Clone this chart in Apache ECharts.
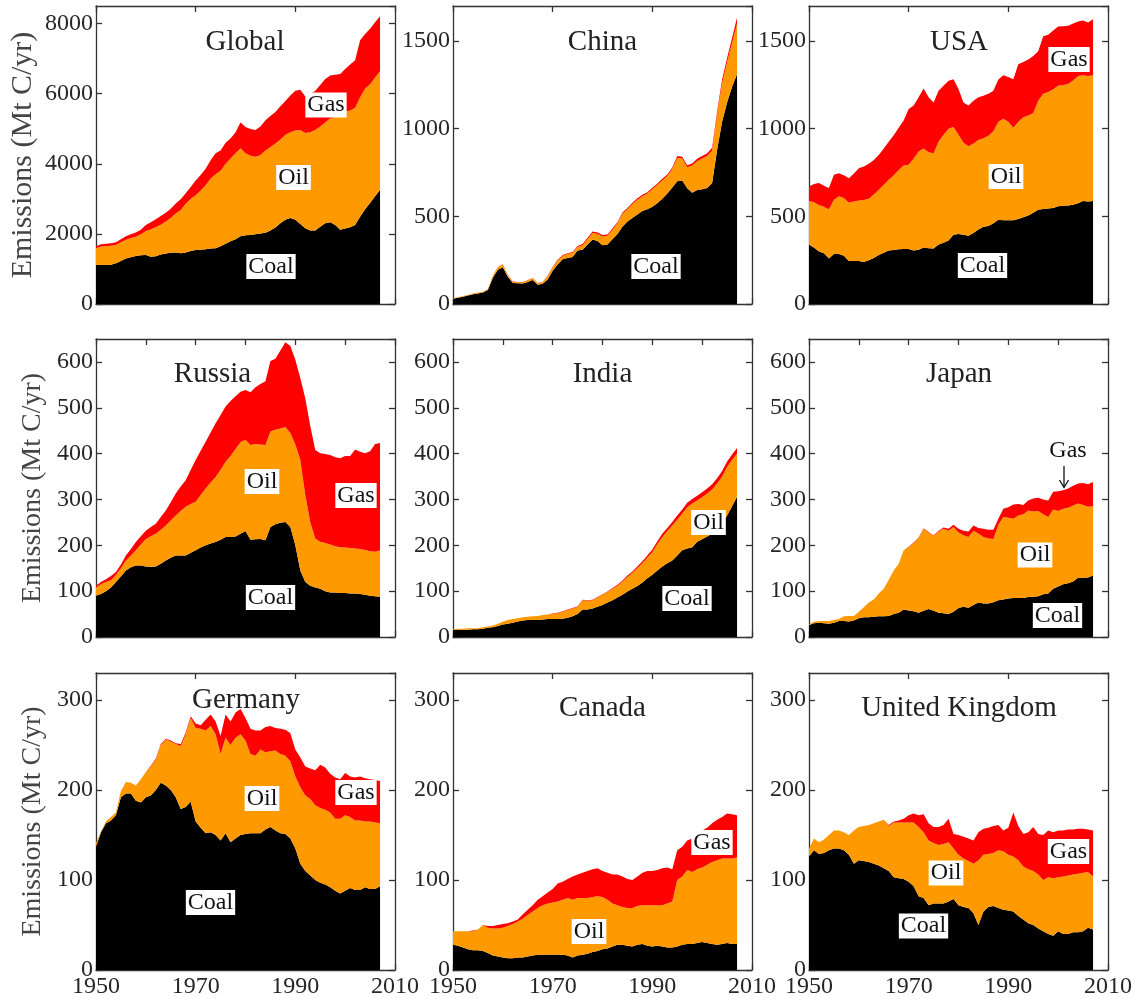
<!DOCTYPE html>
<html>
<head>
<meta charset="utf-8">
<title>Fossil fuel emissions by fuel, 1950-2007</title>
<script src="https://cdn.jsdelivr.net/npm/echarts@6/dist/echarts.min.js"></script>
<style>
  html, body { margin: 0; padding: 0; background: #fff; }
  #chart { width: 1137px; height: 999px; }
</style>
</head>
<body>
<div id="chart"></div>
<script>
// x categories 1950..2010, series run 1950-2007
const years = [];
for (let y = 1950; y <= 2010; y++) years.push(String(y));

// Mt C/yr, one value per year from 1950 to 2007
const globalCoal = [1110,1120,1110,1120,1160,1230,1300,1330,1370,1390,
  1400,1350,1360,1410,1440,1460,1470,1450,1470,1510,
  1540,1550,1560,1580,1590,1650,1720,1790,1850,1930,
  1960,1970,1990,2010,2030,2100,2180,2300,2400,2450,
  2400,2280,2160,2100,2100,2200,2300,2330,2250,2120,
  2150,2190,2250,2490,2700,2880,3070,3250];
const globalOil = [480,520,540,540,520,530,530,550,550,600,
  680,780,830,850,910,990,1110,1230,1390,1490,
  1560,1690,1830,2000,2110,2150,2280,2360,2450,2510,
  2340,2260,2210,2240,2350,2380,2400,2390,2430,2450,
  2550,2680,2720,2800,2860,2860,2880,2970,3080,3280,
  3340,3330,3350,3410,3450,3390,3390,3390];
const globalGas = [60,65,70,75,80,90,100,110,120,130,
  170,200,230,250,250,270,290,310,300,340,
  420,440,470,520,600,580,600,570,600,740,
  750,760,760,810,860,880,900,950,960,1050,
  1130,1150,1040,1090,1120,1190,1240,1220,1210,1160,
  1210,1310,1350,1620,1550,1580,1580,1570];

const chinaCoal = [30,35,42,48,55,60,65,80,150,195,
  210,155,120,118,117,125,137,110,115,140,
  190,225,255,262,268,305,310,340,368,360,
  335,340,370,400,440,470,490,510,530,540,
  555,575,600,630,665,700,705,660,635,650,
  655,662,690,880,1040,1150,1240,1310];
const chinaOil = [4,4,4,4,5,5,5,6,10,15,
  15,10,6,6,7,10,10,8,9,20,
  20,23,20,23,24,20,25,30,37,40,
  50,50,55,60,75,70,80,85,85,90,
  100,105,105,100,105,135,125,120,155,165,
  175,183,185,200,220,230,250,290];
const chinaGas = [0,0,0,0,0,0,0,0,1,1,
  2,2,2,2,2,2,2,2,2,3,
  3,4,4,5,5,6,7,8,8,8,
  8,7,7,7,7,7,8,8,8,8,
  8,8,9,9,9,9,10,11,12,13,
  14,15,17,18,20,24,28,34];

const usaCoal = [338,323,300,290,260,285,285,275,245,245,
  245,240,250,262,280,292,305,308,312,314,
  314,305,310,323,318,316,340,350,362,395,
  400,395,390,405,425,440,445,460,480,478,
  478,478,485,495,505,520,538,542,545,548,
  558,560,562,566,575,587,585,588];
const usaOil = [249,257,265,265,280,310,330,330,333,340,
  345,354,350,363,372,388,404,427,453,476,
  481,525,560,564,547,544,585,615,638,615,
  565,525,510,510,510,505,515,525,560,579,
  562,527,555,571,570,570,622,658,665,677,
  687,690,693,709,725,718,715,717];
const usaGas = [84,104,125,120,122,142,131,130,140,160,
  185,190,200,197,198,207,216,228,240,257,
  318,302,310,343,315,290,291,280,273,272,
  261,230,232,245,244,243,240,231,240,248,
  255,277,327,314,320,325,282,327,326,335,
  338,335,332,325,311,312,306,319];

const russiaCoal = [90,94,100,108,120,132,145,152,156,156,
  154,153,154,160,167,173,178,178,178,184,
  189,195,200,204,207,212,218,218,219,225,
  231,212,213,214,211,240,246,249,251,240,
  200,145,120,112,108,105,100,97,97,96,
  96,95,95,94,92,90,89,88];
const russiaOil = [18,21,20,16,15,18,22,26,33,46,
  60,67,71,74,76,81,87,97,106,106,
  106,115,124,133,142,153,164,177,191,200,
  199,207,208,206,208,208,206,206,207,205,
  220,241,190,138,107,103,105,105,101,100,
  99,99,98,98,98,97,97,101];
const russiaGas = [4,5,6,9,7,8,11,14,18,18,
  18,20,22,28,33,40,48,53,58,74,
  91,96,102,109,117,119,121,120,115,110,
  109,115,124,132,139,154,155,170,185,190,
  185,179,210,210,193,193,194,195,194,194,
  200,201,216,212,211,218,235,234];

const indiaCoal = [15,16,16,16,17,17,18,20,21,24,
  27,29,31,34,36,37,37,37,38,39,
  39,39,40,42,45,50,60,60,62,66,
  70,75,80,86,92,99,105,111,119,128,
  136,145,154,161,167,178,189,193,196,208,
  213,219,225,232,248,265,285,306];
const indiaOil = [2,2,2,3,2,2,3,3,4,5,
  6,8,8,7,7,7,8,9,10,10,
  11,13,15,17,17,16,20,19,18,20,
  22,23,25,26,29,32,35,39,42,45,
  49,58,64,70,76,78,80,90,95,90,
  92,94,97,103,102,106,101,94];
const indiaGas = [0,0,0,0,0,0,0,0,0,0,
  0,0,0,0,0,0,0,0,0,0,
  1,1,1,1,1,1,1,1,1,1,
  1,1,2,2,2,3,3,4,4,5,
  6,6,7,7,8,9,9,10,10,10,
  11,11,11,11,12,12,12,12];

const japanCoal = [26,30,31,30,29,31,35,35,34,36,
  41,43,43,44,45,45,46,50,53,60,
  58,56,53,57,61,57,53,52,50,55,
  63,66,64,70,75,73,73,76,80,82,
  84,85,85,85,87,88,89,93,95,105,
  110,115,117,121,129,129,130,134];
const japanOil = [2,3,4,5,6,6,4,10,12,10,
  14,22,32,38,50,60,79,95,107,129,
  138,149,163,179,167,164,177,184,182,185,
  165,156,154,162,151,145,142,138,165,180,
  176,173,180,183,189,186,186,175,167,173,
  165,165,165,166,162,159,154,151];
const japanGas = [0,0,0,0,0,0,0,0,0,0,
  0,0,0,0,0,0,0,0,0,0,
  1,1,1,1,1,1,2,3,4,5,
  8,10,12,11,12,18,19,20,13,18,
  23,31,25,20,22,28,29,32,36,39,
  43,40,42,43,44,48,49,53];

const germanyCoal = [137,153,163,166,172,192,196,196,188,186,
  192,194,200,208,205,200,192,179,181,187,
  165,158,152,153,150,144,152,142,146,150,
  151,152,152,152,156,159,155,152,151,146,
  135,118,110,105,100,97,95,92,88,85,
  88,91,89,89,92,90,90,93];
const germanyOil = [4,1,2,4,3,7,13,12,17,26,
  28,32,34,42,51,54,59,70,81,93,
  104,110,114,118,112,96,106,108,112,112,
  104,88,86,93,86,84,89,88,87,86,
  80,85,84,85,83,83,83,83,80,83,
  84,79,77,77,73,75,74,70];
const germanyGas = [0,0,0,0,0,0,0,0,0,0,
  0,1,1,1,1,1,1,2,2,2,
  5,4,12,13,14,20,26,26,28,28,
  25,28,28,21,28,28,25,28,29,31,
  30,33,32,34,39,48,47,43,46,44,
  47,45,48,49,48,47,47,47];

const canadaCoal = [28,27,25,23,22,22,21,19,16,15,
  14,13,13,14,14,15,16,17,17,17,
  17,17,17,16,14,16,17,18,20,21,
  23,24,26,28,28,27,26,28,29,27,
  26,27,26,25,25,26,28,29,29,30,
  31,30,29,28,29,30,29,29];
const canadaOil = [15,16,18,20,21,23,29,28,30,31,
  33,36,38,40,43,46,49,52,55,57,
  58,59,61,64,64,64,63,62,61,61,
  58,54,48,44,42,42,43,43,43,45,
  46,45,46,49,51,74,76,82,80,82,
  83,87,91,94,95,94,95,96];
const canadaGas = [0,0,0,0,1,0,0,2,3,4,
  4,3,3,2,5,6,7,9,10,12,
  15,20,20,21,26,26,28,30,31,31,
  29,30,32,34,34,32,31,33,36,38,
  38,39,41,40,36,33,33,33,37,40,
  41,41,43,45,46,50,49,47];

const ukCoal = [126,133,129,130,133,135,135,133,128,118,
  122,121,120,118,116,113,110,103,102,101,
  98,93,82,80,72,74,74,74,76,79,
  72,70,69,63,50,65,70,71,69,67,
  66,65,60,56,52,50,46,43,40,38,
  43,40,40,42,42,43,47,45];
const ukOil = [9,13,13,15,17,20,20,20,22,37,
  37,39,41,45,49,54,50,61,62,63,
  66,71,77,73,72,67,65,66,66,56,
  56,54,52,55,72,63,59,59,64,65,
  62,61,62,59,60,60,60,57,63,64,
  60,64,65,64,65,65,62,59];
const ukGas = [0,0,0,0,0,0,0,0,0,0,
  0,0,0,0,0,0,1,1,2,4,
  8,10,13,20,19,18,20,21,26,16,
  22,24,25,26,31,29,29,30,28,23,
  30,49,38,36,41,49,45,50,52,51,
  52,51,51,50,50,49,47,51];

const FONT = 'Liberation Serif';
const fuelColors = { Coal: '#000000', Oil: '#ff9900', Gas: '#ff0000' };

// panel layout (pixels)
const colX = [96, 453, 809];
const rowY = [6, 339, 673];
const PW = 299, PH = 298;

const panels = [
  { title: 'Global', tx: 245, ty: 42, data: [globalCoal, globalOil, globalGas], max: 8500, step: 2000,
    tags: [[326, 105, 'Gas'], [293.5, 177.5, 'Oil'], [271, 266.5, 'Coal']] },
  { title: 'China', tx: 602.5, ty: 42, data: [chinaCoal, chinaOil, chinaGas], max: 1700, step: 500,
    tags: [[656, 266.5, 'Coal']] },
  { title: 'USA', tx: 959, ty: 42, data: [usaCoal, usaOil, usaGas], max: 1700, step: 500,
    tags: [[1069, 59.5, 'Gas'], [1006, 176.5, 'Oil'], [982.5, 265.5, 'Coal']] },
  { title: 'Russia', tx: 212.5, ty: 374, data: [russiaCoal, russiaOil, russiaGas], max: 650, step: 100,
    tags: [[262, 481.5, 'Oil'], [356, 495.5, 'Gas'], [270.5, 597.5, 'Coal']] },
  { title: 'India', tx: 602.5, ty: 374, data: [indiaCoal, indiaOil, indiaGas], max: 650, step: 100,
    tags: [[708.5, 522.5, 'Oil'], [687, 598.5, 'Coal']] },
  { title: 'Japan', tx: 959, ty: 374, data: [japanCoal, japanOil, japanGas], max: 650, step: 100,
    tags: [[1035, 555, 'Oil'], [1057.5, 615.5, 'Coal']] },
  { title: 'Germany', tx: 246, ty: 700, data: [germanyCoal, germanyOil, germanyGas], max: 330, step: 100,
    tags: [[262, 798.5, 'Oil'], [356, 792.5, 'Gas'], [210.5, 902.5, 'Coal']] },
  { title: 'Canada', tx: 602.5, ty: 708.5, data: [canadaCoal, canadaOil, canadaGas], max: 330, step: 100,
    tags: [[712, 842.5, 'Gas'], [589, 931.5, 'Oil']] },
  { title: 'United Kingdom', tx: 959, ty: 708.5, data: [ukCoal, ukOil, ukGas], max: 330, step: 100,
    tags: [[1068.5, 851.5, 'Gas'], [946, 873, 'Oil'], [923.5, 926, 'Coal']] }
];

const fuels = ['Coal', 'Oil', 'Gas'];
const grids = [], xAxes = [], yAxes = [], series = [], graphics = [];

panels.forEach(function (p, i) {
  const col = i % 3, row = Math.floor(i / 3);
  grids.push({ left: colX[col], top: rowY[row], width: PW, height: PH });

  const frame = { show: true, onZero: false, lineStyle: { color: '#333', width: 1.3 } };
  const xTicks = { show: true, inside: true, length: 6, interval: row === 1 ? 9 : 19,
    lineStyle: { color: '#333', width: 1.3 } };
  const yTicks = { show: true, inside: true, length: 6, lineStyle: { color: '#333', width: 1.3 } };

  ['bottom', 'top'].forEach(function (pos) {
    xAxes.push({
      type: 'category', gridIndex: i, data: years, boundaryGap: false, position: pos,
      axisLine: frame, axisTick: xTicks, splitLine: { show: false },
      axisLabel: { show: pos === 'bottom' && row === 2, interval: 19, margin: 5,
        fontFamily: FONT, fontSize: 24, color: '#262626' }
    });
  });
  ['left', 'right'].forEach(function (pos) {
    const ax = {
      type: 'value', gridIndex: i, position: pos, min: 0, max: p.max, interval: p.step,
      axisLine: frame, axisTick: yTicks, splitLine: { show: false },
      axisLabel: { show: pos === 'left', showMaxLabel: false, margin: 3,
        formatter: function (v) { return String(v); },
        fontFamily: FONT, fontSize: 24, color: '#262626' }
    };
    if (pos === 'left' && col === 0) {
      ax.name = 'Emissions (Mt C/yr)';
      ax.nameLocation = 'middle';
      ax.nameGap = row === 0 ? 58 : 49;
      ax.nameTextStyle = { fontFamily: FONT, fontSize: row === 0 ? 30 : 28, color: '#444' };
    }
    yAxes.push(ax);
  });

  fuels.forEach(function (f, k) {
    series.push({
      type: 'line', name: p.title + ' ' + f, xAxisIndex: 2 * i, yAxisIndex: 2 * i,
      stack: 'fuel' + i, data: p.data[k], symbol: 'none', showSymbol: false,
      lineStyle: { width: 0 }, itemStyle: { color: fuelColors[f] },
      areaStyle: { color: fuelColors[f], opacity: 1 }, silent: true
    });
  });

  graphics.push({ type: 'text', x: p.tx, y: p.ty, z: 100,
    style: { text: p.title, font: '29px "Liberation Serif"', fill: '#222', align: 'center', verticalAlign: 'middle' } });
  p.tags.forEach(function (t) {
    graphics.push({ type: 'text', x: t[0], y: t[1], z: 100,
      style: { text: t[2], font: '24px "Liberation Serif"', fill: '#111', align: 'center', verticalAlign: 'middle',
        backgroundColor: '#fff', padding: [1, 2, 0, 2] } });
  });
});

// Japan: gas pointer
graphics.push({ type: 'text', x: 1068, y: 451, z: 100,
  style: { text: 'Gas', font: '24px "Liberation Serif"', fill: '#111', align: 'center', verticalAlign: 'middle' } });
graphics.push({ type: 'line', z: 100, shape: { x1: 1064, y1: 466, x2: 1064, y2: 487 },
  style: { stroke: '#111', lineWidth: 1.3 } });
graphics.push({ type: 'polyline', z: 100, shape: { points: [[1059.5, 480], [1064, 487.5], [1068.5, 480]] },
  style: { stroke: '#111', lineWidth: 1.3, fill: null } });

const chart = echarts.init(document.getElementById('chart'), null, { renderer: 'canvas' });
chart.setOption({
  animation: false,
  backgroundColor: '#fff',
  grid: grids,
  xAxis: xAxes,
  yAxis: yAxes,
  series: series,
  graphic: graphics
});
</script>
</body>
</html>
